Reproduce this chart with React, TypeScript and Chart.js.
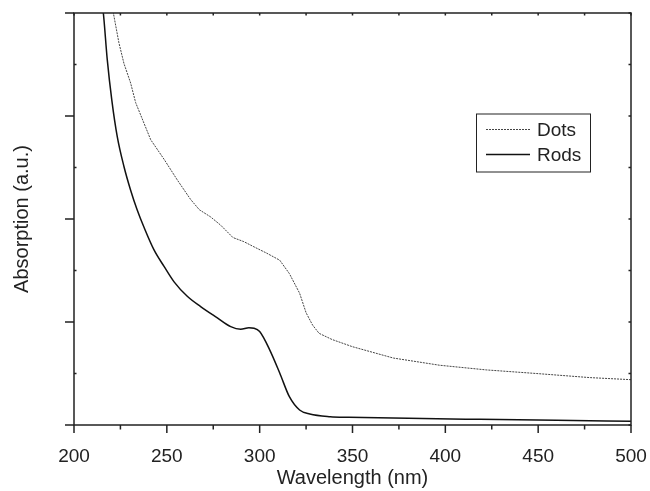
import { useEffect, useRef } from 'react';
import { Chart, registerables } from 'chart.js';

Chart.register(...registerables);

const xTicks = [200, 250, 300, 350, 400, 450, 500];
const seriesLabels = ['Dots', 'Rods'];
const xTitle = 'Wavelength (nm)';
const yTitle = 'Absorption (a.u.)';

const rodsNm = [215, 215.8, 217.9, 220.4, 223.3, 226.9, 230.5, 234, 237.7, 243.1, 248.5, 253.9, 261, 268.2, 277.2, 284.4, 289.8, 294.2, 297, 300, 305.4, 310.8, 316, 321.5, 327, 338, 348, 380, 418.6, 460, 500];
const rodsAbs = [4.1, 4.0, 3.55, 3.15, 2.8, 2.51, 2.28, 2.09, 1.92, 1.7, 1.54, 1.39, 1.25, 1.15, 1.04, 0.955, 0.93, 0.945, 0.94, 0.907, 0.73, 0.505, 0.275, 0.146, 0.107, 0.081, 0.075, 0.065, 0.055, 0.045, 0.036];

const dotsNm = [220.5, 221.2, 224.2, 226.9, 230.5, 233.2, 237.7, 241.3, 248.5, 255.6, 262.8, 267.5, 273.6, 279, 285.6, 291.5, 296.9, 303.6, 310.8, 316, 321.5, 325, 328.5, 332, 339, 350, 372, 397, 422, 449, 478, 500];
const dotsAbs = [4.1, 4.0, 3.71, 3.51, 3.32, 3.13, 2.93, 2.77, 2.58, 2.38, 2.19, 2.09, 2.02, 1.94, 1.82, 1.78, 1.73, 1.67, 1.6, 1.47, 1.28, 1.09, 0.97, 0.89, 0.83, 0.76, 0.65, 0.58, 0.535, 0.5, 0.46, 0.44];

const FONT = "'Liberation Sans', Arial, Helvetica, sans-serif";
const INK = '#222';

const framePlugin = {
  id: 'frame',
  afterDatasetsDraw(chart: any) {
    const { ctx, chartArea: a, scales } = chart;
    const x = scales.x;
    const y = scales.y;
    ctx.save();
    ctx.strokeStyle = INK;
    ctx.lineWidth = 1.5;
    ctx.strokeRect(a.left, a.top, a.right - a.left, a.bottom - a.top);
    ctx.beginPath();
    for (let i = 0; i < xTicks.length; i++) {
      const v = xTicks[i];
      const px = x.getPixelForValue(v);
      ctx.moveTo(px, a.bottom);
      ctx.lineTo(px, a.bottom + 8);
      ctx.moveTo(px, a.top);
      ctx.lineTo(px, a.top + 2.5);
      if (i < xTicks.length - 1) {
        const mx = x.getPixelForValue(v + 25);
        ctx.moveTo(mx, a.bottom);
        ctx.lineTo(mx, a.bottom + 4.5);
        ctx.moveTo(mx, a.top);
        ctx.lineTo(mx, a.top + 2.5);
      }
    }
    for (let v = 0; v <= 4; v += 0.5) {
      const py = y.getPixelForValue(v);
      if (v % 1 === 0) {
        ctx.moveTo(a.left - 9, py);
        ctx.lineTo(a.left, py);
      } else {
        ctx.moveTo(a.left, py);
        ctx.lineTo(a.left + 2.5, py);
      }
      ctx.moveTo(a.right, py);
      ctx.lineTo(a.right - 2.5, py);
    }
    ctx.stroke();

    // legend box
    const bl = a.left + 402;
    const br = a.left + 516;
    const bt = a.top + 100.5;
    const bb = a.top + 158.5;
    ctx.lineWidth = 1;
    ctx.strokeStyle = INK;
    ctx.strokeRect(bl + 0.5, bt + 0.5, br - bl, bb - bt);
    const rows = [a.top + 116.5, a.top + 141.5];
    const dsOrder = [0, 1];
    ctx.font = `19px ${FONT}`;
    ctx.fillStyle = INK;
    ctx.textBaseline = 'middle';
    ctx.textAlign = 'left';
    dsOrder.forEach((di, r) => {
      const ds = chart.data.datasets[di];
      ctx.save();
      ctx.strokeStyle = ds.borderColor;
      ctx.lineWidth = ds.borderWidth;
      ctx.setLineDash(ds.borderDash || []);
      ctx.beginPath();
      ctx.moveTo(bl + 10, rows[r]);
      ctx.lineTo(bl + 54, rows[r]);
      ctx.stroke();
      ctx.restore();
      ctx.fillText(ds.label, bl + 61, rows[r] + 1);
    });
    ctx.restore();
  },
};

export default function App() {
  const ref = useRef<HTMLCanvasElement | null>(null);
  useEffect(() => {
    if (!ref.current) return;
    Chart.defaults.font.family = FONT;
    Chart.defaults.color = INK;
    const chart = new Chart(ref.current, {
      type: 'line',
      data: {
        datasets: [
          {
            label: seriesLabels[0],
            data: dotsNm.map((v, i) => ({ x: v, y: dotsAbs[i] })),
            borderColor: '#444',
            borderWidth: 1,
            borderDash: [2, 1],
            pointRadius: 0,
            fill: false,
            tension: 0,
          },
          {
            label: seriesLabels[1],
            data: rodsNm.map((v, i) => ({ x: v, y: rodsAbs[i] })),
            borderColor: '#111',
            borderWidth: 1.5,
            pointRadius: 0,
            fill: false,
            cubicInterpolationMode: 'monotone',
          },
        ],
      },
      options: {
        responsive: false,
        animation: false,
        layout: { padding: { top: 13, right: 19, left: 0, bottom: 0 } },
        plugins: { legend: { display: false }, tooltip: { enabled: false } },
        scales: {
          x: {
            type: 'linear',
            min: 200,
            max: 500,
            afterBuildTicks: (s: any) => {
              s.ticks = xTicks.map((v) => ({ value: v }));
            },
            grid: { display: false },
            border: { display: false },
            ticks: { padding: 12, font: { size: 19 }, color: INK, maxRotation: 0, autoSkip: false },
            title: { display: true, text: xTitle, font: { size: 20 }, color: INK, padding: { top: 0, bottom: 1 } },
            afterFit: (s: any) => {
              s.height = 66;
              s.paddingLeft = 0;
              s.paddingRight = 0;
            },
          },
          y: {
            type: 'linear',
            min: 0,
            max: 4,
            ticks: { display: false, stepSize: 1 },
            grid: { display: false },
            border: { display: false },
            title: { display: true, text: yTitle, font: { size: 20 }, color: INK, padding: { top: 10, bottom: 0 } },
            afterFit: (s: any) => {
              s.width = 74;
              s.paddingTop = 0;
              s.paddingBottom = 0;
            },
          },
        },
      } as any,
      plugins: [framePlugin],
    });
    return () => chart.destroy();
  }, []);
  return (
    <div style={{ position: 'fixed', left: 0, top: 0, width: 650, height: 491, background: '#fff' }}>
      <canvas ref={ref} width={650} height={491} />
    </div>
  );
}
